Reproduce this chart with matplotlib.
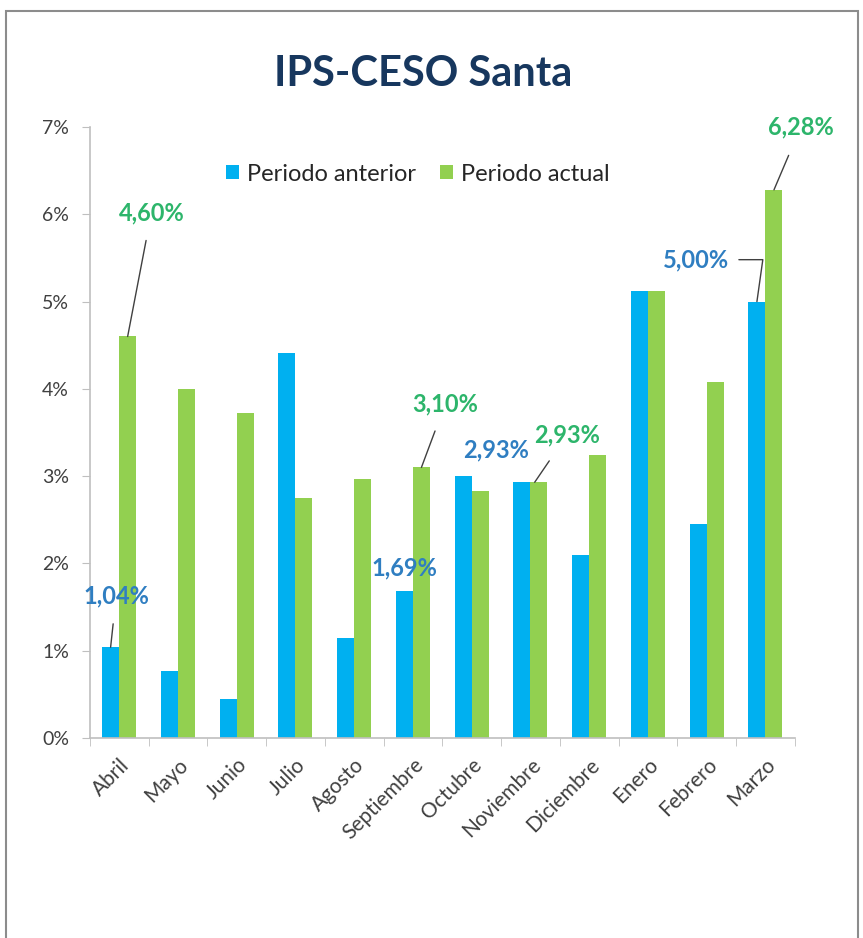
import numpy as np
import matplotlib.pyplot as plt
from matplotlib.patches import Rectangle
from matplotlib.ticker import FuncFormatter

plt.rcParams['font.family'] = ['Lato', 'DejaVu Sans']

months = ["Abril", "Mayo", "Junio", "Julio", "Agosto", "Septiembre",
          "Octubre", "Noviembre", "Diciembre", "Enero", "Febrero", "Marzo"]
anterior = [1.04, 0.77, 0.45, 4.41, 1.15, 1.69, 3.00, 2.93, 2.10, 5.12, 2.45, 5.00]
actual = [4.60, 4.00, 3.72, 2.75, 2.97, 3.10, 2.83, 2.93, 3.24, 5.12, 4.08, 6.28]
series_names = ["Periodo anterior", "Periodo actual"]

BLUE = "#00B0F0"
GREEN = "#92D050"
BLUE_TXT = "#2F7EC1"
GREEN_TXT = "#2DB56B"
AXIS = "#BFBFBF"

fig = plt.figure(figsize=(8.63, 9.38), dpi=100)
ax = fig.add_axes([0.104, 0.2132, 0.817, 0.6514])

x = np.arange(len(months))
w = 0.29
ax.bar(x - w / 2, anterior, w, color=BLUE, label=series_names[0])
ax.bar(x + w / 2, actual, w, color=GREEN, label=series_names[1])

ax.set_xlim(-0.5, len(months) - 0.5)
ax.set_ylim(0, 7)
ax.set_yticks(range(0, 8))
ax.yaxis.set_major_formatter(FuncFormatter(lambda v, p: "%d%%" % v))
ax.set_xticks(x)
ax.set_xticklabels(months, rotation=45, ha="right", rotation_mode="anchor",
                   fontsize=15, color="#404040")
ax.set_xticks(np.arange(-0.5, len(months)), minor=True)
ax.tick_params(axis="x", which="major", length=0, pad=12)
ax.tick_params(axis="x", which="minor", length=6, color=AXIS)
ax.tick_params(axis="y", length=6, color=AXIS, labelsize=14, labelcolor="#404040", pad=9)

for s in ["top", "right"]:
    ax.spines[s].set_visible(False)
for s in ["left", "bottom"]:
    ax.spines[s].set_color(AXIS)
    ax.spines[s].set_linewidth(1.2)

leg = ax.legend(loc="upper center", bbox_to_anchor=(0.465, 0.975), ncol=2, frameon=False,
                fontsize=17, handlelength=0.55, handleheight=0.55, columnspacing=1.0,
                handletextpad=0.35)
for t in leg.get_texts():
    t.set_color("#262626")

lab_kw = dict(fontsize=17, fontweight="bold", ha="center", va="center")
line_kw = dict(arrowstyle="-", color="#404040", lw=1)

# labels with leader lines
ax.annotate("4,60%", xy=(0 + w / 2, actual[0]), xytext=(0.55, 6.02),
            color=GREEN_TXT, arrowprops=dict(**line_kw, shrinkB=0, shrinkA=10), **lab_kw)
ax.annotate("1,04%", xy=(0 - w / 2, anterior[0]), xytext=(-0.05, 1.63),
            color=BLUE_TXT, arrowprops=dict(**line_kw, shrinkB=0, shrinkA=10), **lab_kw)
ax.annotate("1,69%", xy=(5 - w / 2, anterior[5]), xytext=(4.85, 1.95),
            color=BLUE_TXT, **lab_kw)
ax.annotate("3,10%", xy=(5 + w / 2, actual[5]), xytext=(5.55, 3.83),
            color=GREEN_TXT, arrowprops=dict(**line_kw, shrinkB=0, shrinkA=10), **lab_kw)
ax.annotate("2,93%", xy=(7 - w / 2, anterior[7]), xytext=(6.42, 3.3),
            color=BLUE_TXT, **lab_kw)
ax.annotate("2,93%", xy=(7 + w / 4, actual[7]), xytext=(7.62, 3.47),
            color=GREEN_TXT, arrowprops=dict(**line_kw, shrinkB=0, shrinkA=10), **lab_kw)
ax.annotate("5,00%", xy=(11 - w / 2, anterior[11]), xytext=(9.82, 5.48),
            color=BLUE_TXT, arrowprops=dict(**line_kw, shrinkB=0, shrinkA=5, relpos=(1, 0.5),
                                            connectionstyle="angle,angleA=0,angleB=82,rad=0"),
            **lab_kw)
ax.annotate("6,28%", xy=(11 + w / 2, actual[11]), xytext=(11.6, 7.0),
            color=GREEN_TXT, arrowprops=dict(**line_kw, shrinkB=0, shrinkA=11),
            annotation_clip=False, **lab_kw)

fig.text(0.49, 0.921, "IPS-CESO Santa", ha="center", va="center", fontsize=30,
         fontweight="bold", color="#17375E")

fig.patches.append(Rectangle((0.007, -0.02), 0.987, 1.008, transform=fig.transFigure,
                             fill=False, edgecolor="#8C8C8C", lw=1.5))

fig.savefig("out.png", dpi=100)
